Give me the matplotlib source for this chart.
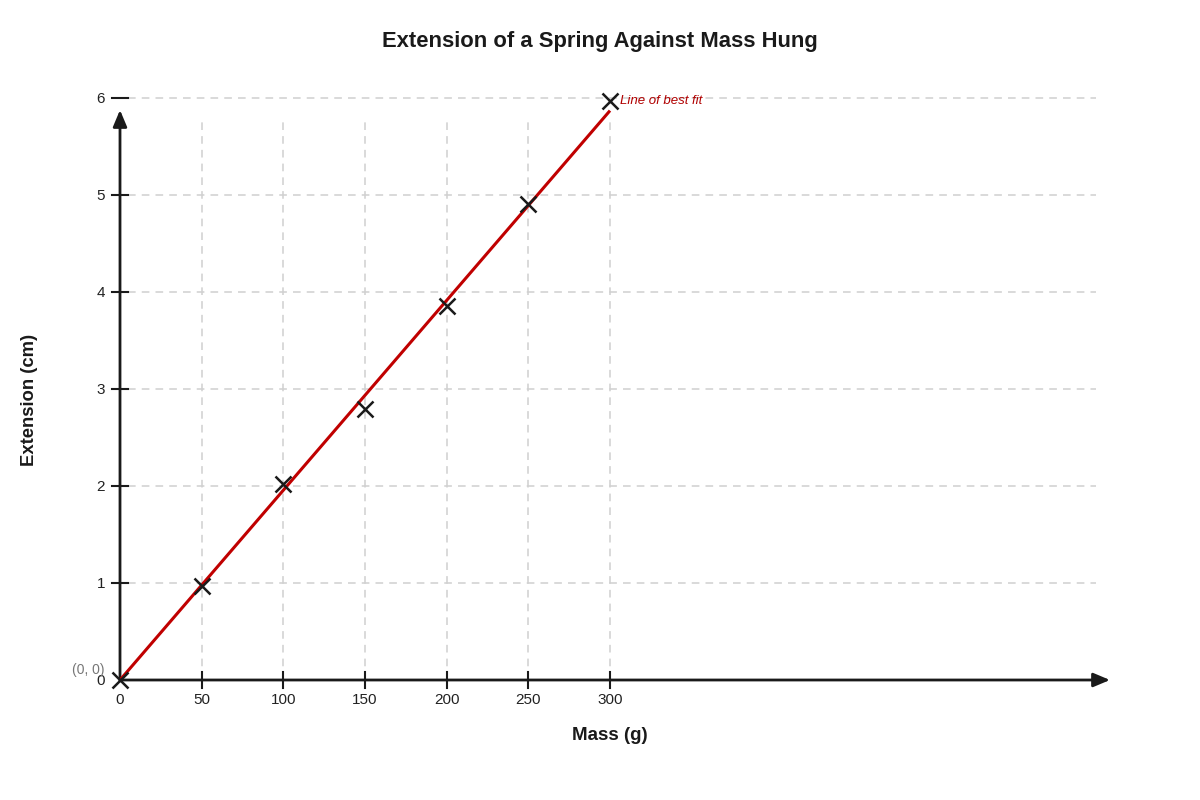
import matplotlib
matplotlib.use("Agg")
import matplotlib.pyplot as plt
import numpy as np

plt.rcParams['font.family'] = ['Liberation Sans', 'DejaVu Sans']

mass = [0, 50, 100, 150, 200, 250, 300]
extension = [0.0, 0.97, 2.02, 2.79, 3.86, 4.91, 5.97]
fit_x = [0, 300]
fit_y = [0.0, 5.87]
x_ticks = [0, 50, 100, 150, 200, 250, 300]
y_ticks = [0, 1, 2, 3, 4, 5, 6]

W, H = 1200, 800
fig = plt.figure(figsize=(12, 8), dpi=100)
# pixel geometry
px_per_x = 490 / 300.0
px_per_y = 582 / 6.0
x0px, y0px = 120, 680
L, R, T, B = 100, 1120, 60, 700
ax = fig.add_axes([L / W, 1 - B / H, (R - L) / W, (B - T) / H])
ax.set_xlim((L - x0px) / px_per_x, (R - x0px) / px_per_x)
ax.set_ylim((y0px - B) / px_per_y, (y0px - T) / px_per_y)
ax.axis('off')

dx = 8 / px_per_x
dy = 8 / px_per_y
grid_c = '#d0d0d0'
x_end = (1096 - x0px) / px_per_x
x_arrow = (1110 - x0px) / px_per_x
y_arrow = (y0px - 110) / px_per_y
vg_top = (y0px - 120) / px_per_y

# horizontal gridlines
for yv in y_ticks[1:]:
    ax.plot([dx, x_end], [yv, yv], color=grid_c, lw=1.1, ls=(0, (5, 4)), zorder=1)
# vertical gridlines
for xv in x_ticks[1:]:
    ax.plot([xv, xv], [0, vg_top], color=grid_c, lw=1.1, ls=(0, (5, 4)), zorder=1)

# axes with arrows
ax.annotate('', xy=(x_arrow, 0), xytext=(0, 0),
            arrowprops=dict(arrowstyle='-|>,head_length=1.0,head_width=0.42', color='#1a1a1a', lw=2,
                            shrinkA=0, shrinkB=0), zorder=3)
ax.annotate('', xy=(0, y_arrow), xytext=(0, 0),
            arrowprops=dict(arrowstyle='-|>,head_length=1.0,head_width=0.42', color='#1a1a1a', lw=2,
                            shrinkA=0, shrinkB=0), zorder=3)

# ticks
for yv in y_ticks[1:]:
    ax.plot([-dx, dx], [yv, yv], color='#1a1a1a', lw=1.5, zorder=3)
    ax.text(-15 / px_per_x, yv - 1 / px_per_y, str(yv), ha='right', va='center', fontsize=11, color='#222222')
ax.text(-15 / px_per_x, -1 / px_per_y, '0', ha='right', va='center', fontsize=11, color='#222222')
for xv in x_ticks[1:]:
    ax.plot([xv, xv], [-dy, dy], color='#1a1a1a', lw=1.5, zorder=3)
for xv in x_ticks:
    ax.text(xv, -20.5 / px_per_y, str(xv), ha='center', va='center', fontsize=11, color='#222222')

# best fit line
ax.plot(fit_x, fit_y, color='#c00000', lw=2.2, zorder=4, solid_capstyle='butt')
# data points
ax.plot(mass, extension, ls='none', marker='x', ms=11, mew=1.8, color='#1a1a1a', zorder=5, clip_on=False)

ax.text(300 + 10 / px_per_x, extension[-1], 'Line of best fit', ha='left', va='center',
        fontsize=9.5, style='italic', color='#b00000')
ax.text(-15 / px_per_x, 10 / px_per_y, '(0, 0)', ha='right', va='center', fontsize=10, color='#777777')

fig.text(600 / W, 1 - 42 / H, 'Extension of a Spring Against Mass Hung', ha='center', va='center',
         fontsize=15.8, fontweight='bold', color='#1a1a1a')
fig.text(610 / W, 1 - 735 / H, 'Mass (g)', ha='center', va='center', fontsize=13.5,
         fontweight='bold', color='#1a1a1a')
fig.text(29 / W, 1 - 400 / H, 'Extension (cm)', ha='center', va='center', fontsize=13.3,
         fontweight='bold', color='#1a1a1a', rotation=90)

fig.savefig('out.png', dpi=100, facecolor='white')
